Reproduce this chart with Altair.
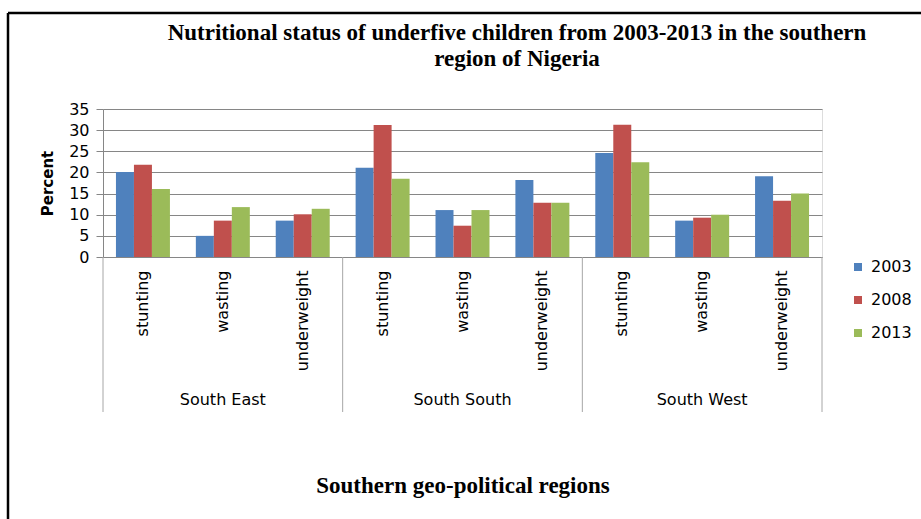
import altair as alt
import pandas as pd

regions = ["South East", "South South", "South West"]
indicators = ["stunting", "wasting", "underweight"]
years = ["2003", "2008", "2013"]
v2003 = [20.1, 5.0, 8.6, 21.1, 11.1, 18.2, 24.6, 8.6, 19.1]
v2008 = [21.8, 8.6, 10.1, 31.2, 7.4, 12.8, 31.3, 9.3, 13.3]
v2013 = [16.1, 11.8, 11.4, 18.5, 11.1, 12.8, 22.4, 10.0, 15.0]
colors = ["#4F81BD", "#C0504D", "#9BBB59"]
y_ticks = [0, 5, 10, 15, 20, 25, 30, 35]
title_lines = ["Nutritional status of underfive children from 2003-2013 in the southern",
               "region of Nigeria"]

keys = [f"{r}|{i}" for r in regions for i in indicators]
rows = []
for yr, vals in zip(years, [v2003, v2008, v2013]):
    for k, v in zip(keys, vals):
        r, i = k.split("|")
        rows.append({"key": k, "region": r, "indicator": i, "year": yr, "value": v})
df = pd.DataFrame(rows)

W, H = 719, 148
SANS = "DejaVu Sans"
SERIF = "Liberation Serif"
GRAY = "#868686"

xscale = alt.Scale(paddingInner=0, paddingOuter=0)

bars = alt.Chart(df).mark_bar().encode(
    x=alt.X("key:N", sort=keys, scale=xscale, title="Southern geo-political regions",
            axis=alt.Axis(labelExpr="split(datum.label, '|')[1]", labelAngle=-90,
                          labelAlign="right", labelBaseline="middle", labelPadding=13,
                          ticks=False, domainColor=GRAY, labelFont=SANS, labelFontSize=16,
                          labelColor="black", titleFont=SERIF, titleFontSize=23,
                          titleFontWeight="bold", titleColor="black", titleY=228,
                          titleBaseline="middle")),
    xOffset=alt.XOffset("year:N", scale=alt.Scale(domain=years, paddingInner=0, paddingOuter=0.72)),
    y=alt.Y("value:Q", scale=alt.Scale(domain=[0, 35], nice=False), title="Percent",
            axis=alt.Axis(values=y_ticks, grid=True, gridColor=GRAY, tickColor=GRAY,
                          domainColor=GRAY, tickSize=7, labelPadding=7, labelFont=SANS,
                          labelFontSize=16, labelColor="black", titleFont=SANS,
                          titleFontSize=15, titleFontWeight="bold", titleColor="black",
                          titleX=-56, titleY=74, titleAngle=-90, titleAlign="center",
                          titleBaseline="middle")),
    color=alt.Color("year:N", scale=alt.Scale(domain=years, range=colors),
                    legend=alt.Legend(title=None, orient="none", legendX=747, legendY=150,
                                      symbolType="square", symbolSize=64, symbolStrokeWidth=0,
                                      labelFont=SANS, labelFontSize=16, labelColor="black",
                                      rowPadding=17, labelOffset=5)),
)

sep_df = pd.DataFrame({"key": [keys[0], keys[3], keys[6]]})
seps = alt.Chart(sep_df).mark_rule(color="#a6a6a6", strokeWidth=1).encode(
    x=alt.X("key:N", sort=keys, bandPosition=0),
    y=alt.value(H), y2=alt.value(303),
)
sep_end = alt.Chart(pd.DataFrame({"key": [keys[8]]})).mark_rule(color="#a6a6a6", strokeWidth=1).encode(
    x=alt.X("key:N", sort=keys, bandPosition=1),
    y=alt.value(H), y2=alt.value(303),
)

reg_df = pd.DataFrame({"key": [keys[1], keys[4], keys[7]], "region": regions})
reg_text = alt.Chart(reg_df).mark_text(font=SANS, fontSize=16, color="black", baseline="middle").encode(
    x=alt.X("key:N", sort=keys),
    y=alt.value(291),
    text="region:N",
)

title_mark = alt.Chart(alt.Data(values=[{"t": title_lines}])).mark_text(
    font=SERIF, fontSize=23, fontWeight="bold", color="black", align="center",
    baseline="alphabetic", lineHeight=26,
).encode(x=alt.value(414), y=alt.value(-69), text="t:N")

border_top = alt.Chart(alt.Data(values=[{}])).mark_rule(color="black", strokeWidth=2.5).encode(
    x=alt.value(-95), x2=alt.value(830), y=alt.value(-96)
)
border_left = alt.Chart(alt.Data(values=[{}])).mark_rule(color="black", strokeWidth=2.5).encode(
    x=alt.value(-95), y=alt.value(-96), y2=alt.value(420)
)

chart = alt.layer(bars, seps, sep_end, reg_text, title_mark, border_top, border_left).properties(
    width=W, height=H,
    padding={"left": 103, "top": 109, "right": 99, "bottom": 262},
    autosize=alt.AutoSizeParams(type="none"),
).configure_view(stroke=None).configure(background="white")

chart.save("out.html", embed_options={"renderer": "svg", "actions": False})
